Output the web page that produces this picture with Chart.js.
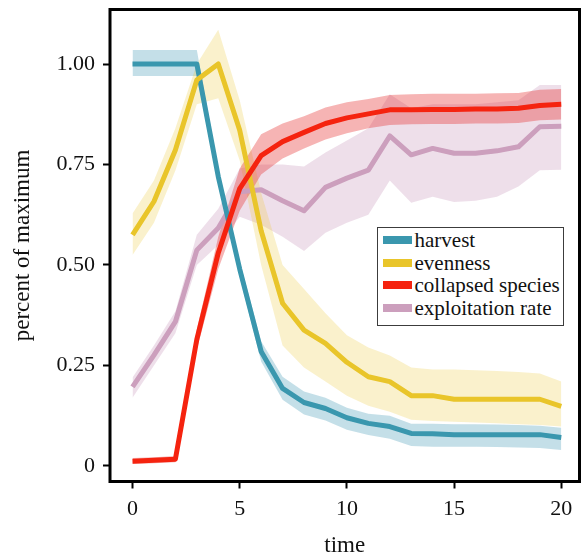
<!DOCTYPE html>
<html>
<head>
<meta charset="utf-8">
<script src="https://cdn.jsdelivr.net/npm/chart.js"></script>
<style>
  body { margin: 0; background: #fff; font-family: "Liberation Serif", "DejaVu Serif", serif; }
  #wrap { position: relative; width: 581px; height: 557px; }
  #legend {
    position: absolute;
    left: 377px;
    top: 227px;
    width: 187px;
    height: 99px;
    box-sizing: border-box;
    border: 1.5px solid #3c3c3c;
    background: #fff;
    padding-top: 1px;
    color: #111;
  }
  .row { height: 22.5px; line-height: 22.5px; display: flex; align-items: center; white-space: nowrap; }
  .swatch { width: 29px; height: 8px; margin-left: 4.5px; margin-right: 3px; flex: none; }
  .txt { font-family: "Liberation Serif", "DejaVu Serif", serif; font-size: 21px; }
</style>
</head>
<body>
<div id="wrap">
  <canvas id="chart" width="581" height="557"></canvas>
  <div id="legend"></div>
</div>
<script>
// time steps
const time = [0, 1, 2, 3, 4, 5, 6, 7, 8, 9, 10, 11, 12, 13, 14, 15, 16, 17, 18, 19, 20];

// series (percent of maximum)
const harvest = [1.00, 1.00, 1.00, 1.00, 0.72, 0.49, 0.285, 0.193, 0.158, 0.143, 0.12, 0.106, 0.098, 0.081, 0.08, 0.078, 0.078, 0.078, 0.078, 0.078, 0.071];
const harvestLow = [0.97, 0.97, 0.97, 0.97, 0.70, 0.47, 0.26, 0.165, 0.128, 0.113, 0.09, 0.077, 0.068, 0.05, 0.048, 0.048, 0.048, 0.047, 0.046, 0.045, 0.04];
const harvestHigh = [1.035, 1.035, 1.035, 1.035, 0.74, 0.51, 0.31, 0.222, 0.185, 0.17, 0.145, 0.13, 0.125, 0.105, 0.105, 0.104, 0.104, 0.103, 0.102, 0.10, 0.095];

const evenness = [0.575, 0.658, 0.786, 0.96, 1.00, 0.835, 0.585, 0.405, 0.338, 0.305, 0.258, 0.222, 0.21, 0.175, 0.175, 0.166, 0.166, 0.166, 0.166, 0.166, 0.148];
const evennessLow = [0.525, 0.605, 0.735, 0.90, 0.915, 0.76, 0.50, 0.30, 0.245, 0.21, 0.175, 0.15, 0.135, 0.115, 0.112, 0.11, 0.108, 0.106, 0.104, 0.102, 0.098];
const evennessHigh = [0.628, 0.71, 0.84, 1.00, 1.085, 0.91, 0.68, 0.50, 0.44, 0.38, 0.325, 0.295, 0.275, 0.245, 0.24, 0.24, 0.238, 0.236, 0.234, 0.23, 0.21];

const collapsed = [0.012, 0.014, 0.017, 0.315, 0.53, 0.69, 0.772, 0.807, 0.83, 0.852, 0.866, 0.876, 0.886, 0.886, 0.887, 0.887, 0.888, 0.888, 0.89, 0.897, 0.90];
const collapsedLow = [0.005, 0.007, 0.009, 0.29, 0.49, 0.635, 0.725, 0.765, 0.79, 0.812, 0.828, 0.84, 0.848, 0.85, 0.851, 0.851, 0.852, 0.852, 0.853, 0.86, 0.862];
const collapsedHigh = [0.02, 0.022, 0.025, 0.34, 0.57, 0.74, 0.825, 0.852, 0.87, 0.892, 0.905, 0.913, 0.923, 0.925, 0.926, 0.926, 0.926, 0.927, 0.928, 0.936, 0.938];

const exploitation = [0.197, 0.276, 0.359, 0.537, 0.592, 0.682, 0.687, 0.66, 0.635, 0.693, 0.716, 0.736, 0.821, 0.774, 0.79, 0.778, 0.778, 0.784, 0.794, 0.844, 0.845];
const exploitationLow = [0.17, 0.25, 0.33, 0.50, 0.55, 0.62, 0.60, 0.57, 0.535, 0.58, 0.605, 0.625, 0.71, 0.655, 0.67, 0.657, 0.66, 0.67, 0.695, 0.736, 0.737];
const exploitationHigh = [0.22, 0.30, 0.385, 0.575, 0.64, 0.74, 0.75, 0.75, 0.745, 0.78, 0.81, 0.84, 0.925, 0.89, 0.90, 0.90, 0.90, 0.905, 0.91, 0.948, 0.948];

const seriesNames = ['harvest', 'evenness', 'collapsed species', 'exploitation rate'];
const lineColors = ['#3a97ae', '#e9c52a', '#f5230f', '#cc9fbd'];
const bandColors = ['rgba(60,150,180,0.3)', 'rgba(235,200,50,0.25)', 'rgba(230,40,40,0.35)', 'rgba(200,150,185,0.3)'];

const xTicks = [0, 5, 10, 15, 20];
const yTicks = [0, 0.25, 0.5, 0.75, 1];
const yTickLabels = ['0', '0.25', '0.50', '0.75', '1.00'];

const serif = "'Liberation Serif', 'DejaVu Serif', serif";

function pts(arr) {
  return time.map((t, i) => ({ x: t, y: arr[i] }));
}

function bandSets(low, high, color, order) {
  return [
    { data: pts(low), borderWidth: 0, pointRadius: 0, fill: false, order: order },
    { data: pts(high), borderWidth: 0, pointRadius: 0, fill: '-1', backgroundColor: color, order: order }
  ];
}

function lineSet(label, data, color, order) {
  return {
    label: label,
    data: pts(data),
    borderColor: color,
    borderWidth: 5,
    pointRadius: 0,
    fill: false,
    tension: 0,
    borderJoinStyle: 'round',
    order: order
  };
}

const datasets = [
  ...bandSets(exploitationLow, exploitationHigh, bandColors[3], 14),
  ...bandSets(harvestLow, harvestHigh, bandColors[0], 13),
  ...bandSets(evennessLow, evennessHigh, bandColors[1], 12),
  ...bandSets(collapsedLow, collapsedHigh, bandColors[2], 11),
  lineSet(seriesNames[3], exploitation, lineColors[3], 4),
  lineSet(seriesNames[0], harvest, lineColors[0], 3),
  lineSet(seriesNames[1], evenness, lineColors[1], 2),
  lineSet(seriesNames[2], collapsed, lineColors[2], 1)
];

// box around the plotting area
const framePlugin = {
  id: 'frame',
  afterDatasetsDraw(chart) {
    const a = chart.chartArea;
    const ctx = chart.ctx;
    ctx.save();
    ctx.strokeStyle = '#000';
    ctx.lineWidth = 3;
    ctx.strokeRect(a.left, a.top, a.right - a.left, a.bottom - a.top);
    ctx.restore();
  }
};

new Chart(document.getElementById('chart'), {
  type: 'line',
  data: { datasets: datasets },
  options: {
    responsive: false,
    animation: false,
    layout: { padding: { top: 9.5, right: 1.5, left: 0, bottom: 0 } },
    plugins: {
      legend: { display: false },
      tooltip: { enabled: false }
    },
    scales: {
      x: {
        type: 'linear',
        min: -1.05,
        max: 20.85,
        afterBuildTicks: (s) => { s.ticks = xTicks.map(v => ({ value: v })); },
        afterFit: (s) => { s.height = 75.5; s.paddingLeft = 0; s.paddingRight = 0; },
        grid: { drawOnChartArea: false, drawTicks: true, tickLength: 7, tickColor: '#000', tickWidth: 2 },
        border: { display: false },
        ticks: { color: '#111', padding: 8, font: { family: serif, size: 22 }, maxRotation: 0 },
        title: { display: true, text: 'time', color: '#111', font: { family: serif, size: 23, lineHeight: 1 }, padding: { top: 0, bottom: 0 } }
      },
      y: {
        type: 'linear',
        min: -0.0386,
        max: 1.1356,
        afterBuildTicks: (s) => { s.ticks = yTicks.map(v => ({ value: v })); },
        afterFit: (s) => { s.width = 110; s.paddingTop = 0; s.paddingBottom = 0; },
        grid: { drawOnChartArea: false, drawTicks: true, tickLength: 7, tickColor: '#000', tickWidth: 2 },
        border: { display: false },
        ticks: {
          color: '#111',
          padding: 8,
          font: { family: serif, size: 22 },
          callback: (v) => yTickLabels[yTicks.indexOf(v)]
        },
        title: { display: true, text: 'percent of maximum', color: '#111', font: { family: serif, size: 23, lineHeight: 1 }, padding: { top: 11, bottom: 0 } }
      }
    }
  },
  plugins: [framePlugin]
});

// legend box
const legend = document.getElementById('legend');
seriesNames.forEach((name, i) => {
  const row = document.createElement('div');
  row.className = 'row';
  const sw = document.createElement('span');
  sw.className = 'swatch';
  sw.style.background = lineColors[i];
  const txt = document.createElement('span');
  txt.className = 'txt';
  txt.textContent = name;
  row.appendChild(sw);
  row.appendChild(txt);
  legend.appendChild(row);
});
</script>
</body>
</html>
